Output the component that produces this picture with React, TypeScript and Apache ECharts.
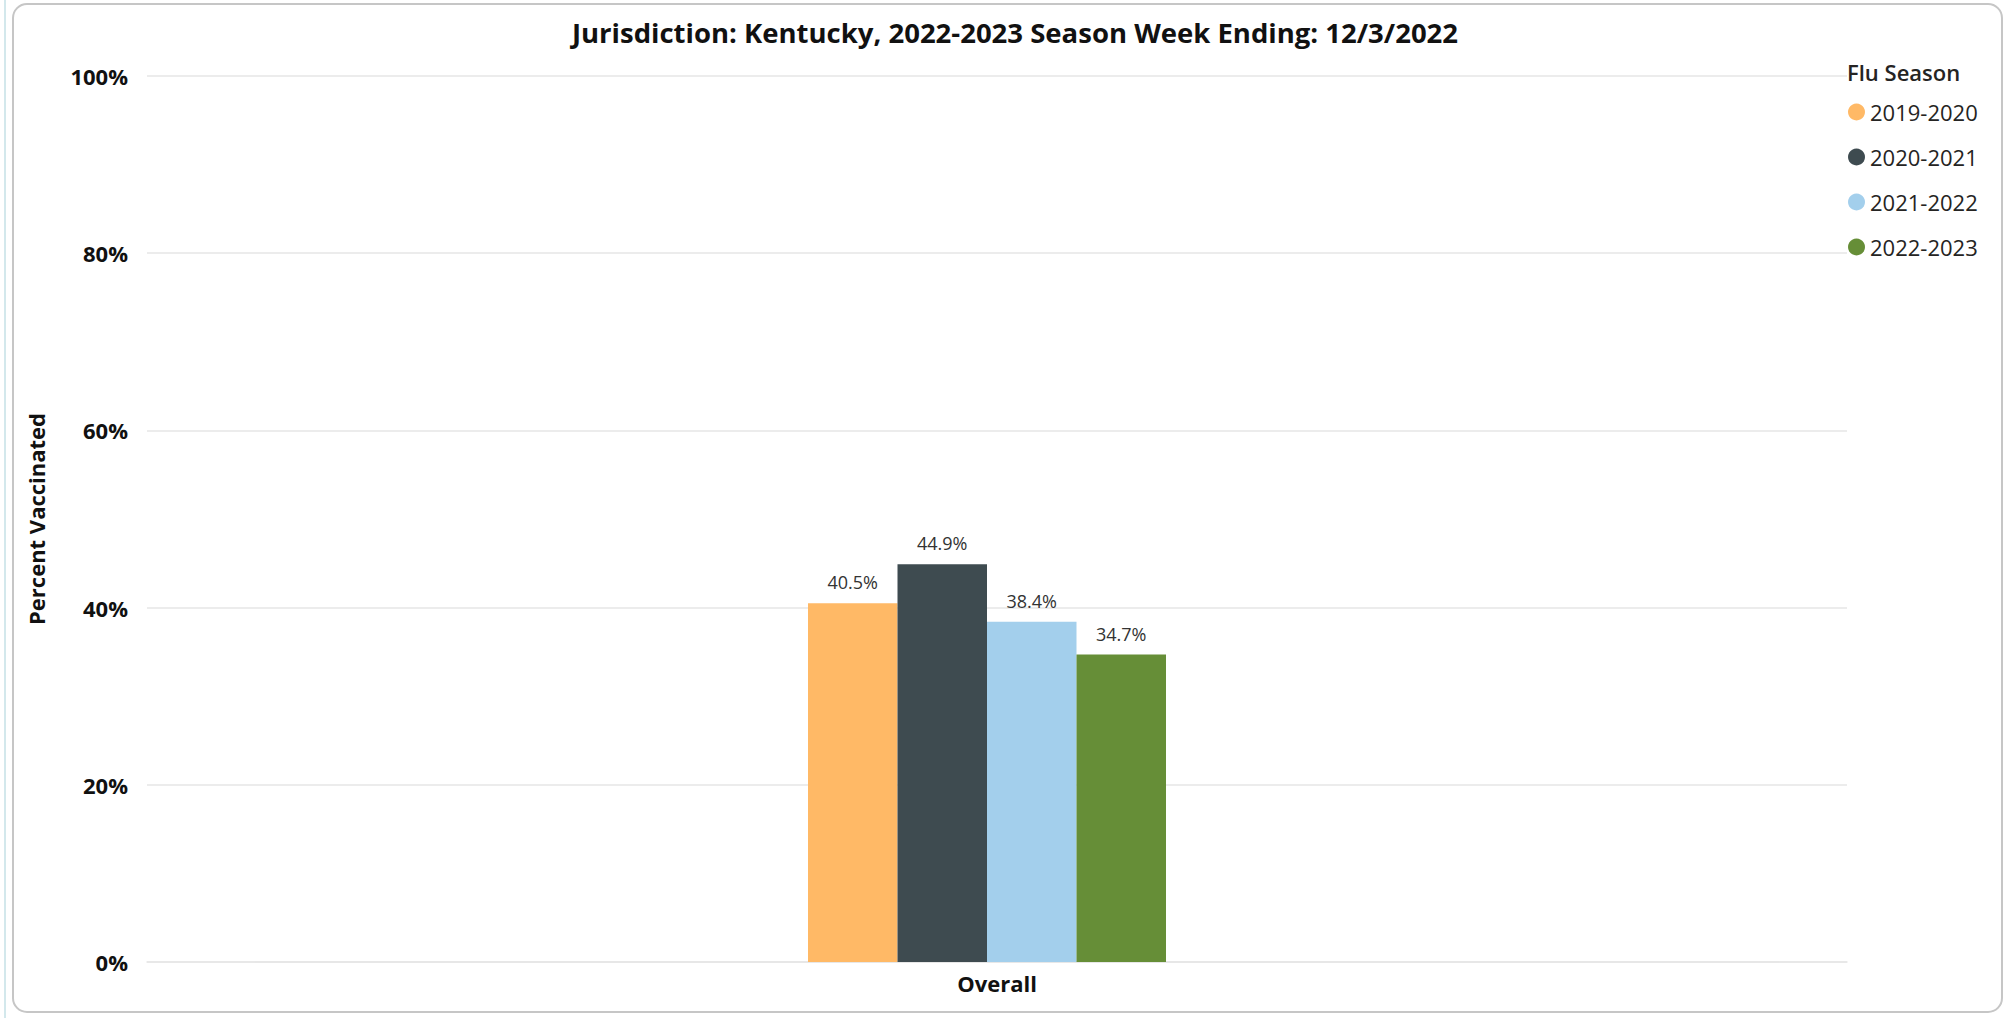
import React, { useEffect, useRef } from "react";
import * as echarts from "echarts";

const categories = ["Overall"];
const seasons = ["2019-2020", "2020-2021", "2021-2022", "2022-2023"];
const values = [40.5, 44.9, 38.4, 34.7];
const colors = ["#FFB966", "#3E4B50", "#A3CFEC", "#668E37"];
const yTicks = [0, 20, 40, 60, 80, 100];
const titleText = "Jurisdiction: Kentucky, 2022-2023 Season Week Ending: 12/3/2022";
const legendTitle = "Flu Season";
const yAxisName = "Percent Vaccinated";

const FONT = "'Open Sans', 'Noto Sans', sans-serif";

export default function App() {
  const ref = useRef<HTMLDivElement>(null);
  useEffect(() => {
    if (!ref.current) return;
    const chart = echarts.init(ref.current, undefined, { renderer: "svg" });
    const series = seasons.map((s, i) => ({
      name: s,
      type: "bar",
      xAxisIndex: 1,
      yAxisIndex: 1,
      barWidth: 89.5,
      barGap: "0%",
      itemStyle: { color: colors[i] },
      label: {
        show: true,
        position: "top",
        distance: 12,
        formatter: (p: any) => p.value.toFixed(1) + "%",
        fontFamily: FONT,
        fontSize: 18,
        color: "#333333",
      },
      data: [values[i]],
    }));
    chart.setOption({
      animation: false,
      backgroundColor: "#ffffff",
      title: {
        text: titleText,
        left: 1010,
        textAlign: "center",
        top: 13,
        textStyle: { fontFamily: FONT, fontWeight: "bold", fontSize: 27.5, color: "#111111" },
      },
      legend: {
        orient: "vertical",
        left: 1843,
        top: 96,
        icon: "circle",
        itemWidth: 17,
        itemHeight: 17,
        itemGap: 23,
        textStyle: { fontFamily: FONT, fontSize: 22, color: "#252423", lineHeight: 22 },
        data: seasons,
        selectedMode: false,
      },
      grid: [
        { left: 147, right: 161, top: 76, bottom: 56, containLabel: false },
        { left: 137, right: 171, top: 76, bottom: 56, containLabel: false },
      ],
      xAxis: [
        {
          type: "category",
          gridIndex: 0,
          data: categories,
          axisLine: { show: true, lineStyle: { color: "#E6E6E6", width: 1.5 } },
          axisTick: { show: false },
          axisLabel: {
            margin: 10,
            fontFamily: FONT,
            fontWeight: "bold",
            fontSize: 22,
            color: "#111111",
          },
        },
        {
          type: "category",
          gridIndex: 1,
          data: categories,
          show: false,
        },
      ],
      yAxis: [
        {
          type: "value",
          gridIndex: 0,
          min: 0,
          max: 100,
          interval: 20,
          name: yAxisName,
          nameLocation: "middle",
          nameGap: 100,
          nameTextStyle: { fontFamily: FONT, fontWeight: "bold", fontSize: 22, color: "#111111" },
          axisLine: { show: false },
          axisTick: { show: false },
          splitLine: { show: true, lineStyle: { color: "#E6E6E6", width: 1.5 } },
          axisLabel: {
            margin: 19,
            fontFamily: FONT,
            fontWeight: "bold",
            fontSize: 22,
            color: "#111111",
            formatter: (v: number) => (yTicks.includes(v) ? v + "%" : ""),
          },
        },
        {
          type: "value",
          gridIndex: 1,
          min: 0,
          max: 100,
          interval: 20,
          show: false,
          splitLine: { show: false },
        },
      ],
      graphic: [
        {
          type: "rect",
          shape: { x: 13, y: 4, width: 1989, height: 1008, r: 14 },
          style: { fill: "none", stroke: "#C6C6C6", lineWidth: 2 },
          silent: true,
          z: -1,
        },
        {
          type: "rect",
          shape: { x: 4, y: 0, width: 2, height: 1018 },
          style: { fill: "#D3E8EC" },
          silent: true,
          z: -1,
        },
        {
          type: "text",
          left: 1847,
          top: 61,
          style: {
            text: legendTitle,
            fontFamily: FONT,
            fontSize: 22,
            fontWeight: 600,
            fill: "#252423",
          },
        },
      ],
      series,
    });
    return () => chart.dispose();
  }, []);
  return (
    <div
      ref={ref}
      style={{ position: "fixed", left: 0, top: 0, width: 2008, height: 1018 }}
    />
  );
}
